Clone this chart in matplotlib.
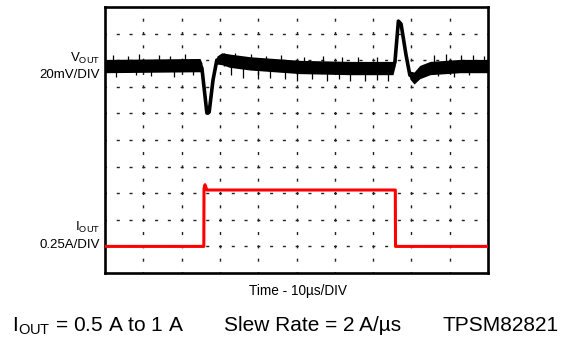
import matplotlib.pyplot as plt

plt.rcParams['font.family'] = ['Liberation Sans', 'DejaVu Sans']
plt.rcParams['mathtext.fontset'] = 'custom'
plt.rcParams['mathtext.rm'] = 'Liberation Sans'

# scope trace: time in us, VOUT deviation in mV
t_vout = [0, 24.8, 25.3, 26.6, 27.2, 28.2, 29.2, 30.5, 32.6, 37.9, 50.9, 64.0,
          75.2, 75.7, 76.6, 77.3, 78.6, 79.6, 80.7, 82.2, 84.9, 92.7, 100]
v_mv = [0, 0.7, -1.5, -35.3, -34.6, -10.5, 4.5, 5.5, 4.0, 2.0, -0.7, -1.5,
        -1.5, 3.0, 33.8, 31.6, 8.3, -6.8, -9.0, -4.5, -1.5, 0, 0]
# half height of the noise band, mV
v_noise = [5, 5, 4, 1.2, 1.2, 1.2, 3, 4.5, 5, 5, 5, 5,
           5, 3.5, 1.2, 1.2, 1.2, 3, 4.5, 5, 5, 5, 5]

# noise spikes sticking out of the band (time us, tip mV)
up_t = [2, 6, 9, 14, 17, 21, 31, 34, 38, 42, 46, 52, 57, 62, 66, 71, 86, 89, 93, 96, 99]
up_mv = [8, 7.5, 9, 8.5, 7.5, 9, 9.5, 10, 9, 7.5, 8, 7, 7.5, 6.5, 7, 6.5, 8, 9, 8, 8.5, 7.5]
down_t = [3, 8, 12, 18, 23, 33, 36, 40, 43, 47, 50, 54, 58, 61, 64, 68, 71, 74, 87, 91, 95]
down_mv = [-8, -7, -7.5, -8, -7, -7, -9, -10, -9, -10, -11, -10, -11.5, -10, -11, -11, -10.5, -11, -7.5, -8, -7]

# load current step, A
t_iout = [0, 25.8, 25.85, 26.1, 26.6, 75.8, 75.85, 100]
i_out = [0.5, 0.5, 1.04, 1.08, 1.03, 1.03, 0.5, 0.5]

vout_pos = 7.78      # screen division of the VOUT trace zero
mv_per_div = 20
a_per_div = 0.25

fig = plt.figure(figsize=(5.69, 3.39), dpi=100)
ax = fig.add_axes([105 / 569, 66 / 339, 383 / 569, 266 / 339])
ax.set_xlim(0, 100)
ax.set_ylim(0, 10)
ax.set_xticks([])
ax.set_yticks([])
for s in ax.spines.values():
    s.set_linewidth(1.9)

# dashed scope graticule
for k in range(1, 10):
    ax.axvline(k * 10, color='#222222', lw=1.0, linestyle=(1.1, (2.2, 7.4)), zorder=1)
    ax.axhline(k, color='#222222', lw=1.0, linestyle=(1.1, (2.2, 7.0)), zorder=1)

vy = [vout_pos + v / mv_per_div for v in v_mv]
lo = [vout_pos + (v - n) / mv_per_div for v, n in zip(v_mv, v_noise)]
hi = [vout_pos + (v + n) / mv_per_div for v, n in zip(v_mv, v_noise)]
ax.fill_between(t_vout, lo, hi, color='black', lw=0, zorder=3)
ax.plot(t_vout, vy, color='black', lw=2.6, zorder=3)
ax.vlines(up_t, vout_pos, [vout_pos + v / mv_per_div for v in up_mv], color='black', lw=0.9, zorder=3)
ax.vlines(down_t, vout_pos, [vout_pos + v / mv_per_div for v in down_mv], color='black', lw=0.9, zorder=3)

iy = [i / a_per_div - 1 for i in i_out]
ax.plot(t_iout, iy, color='#ff0000', lw=2.2, zorder=3)

fs = 9.5
fig.text(100 / 569, 1 - 62 / 339, r'V$_\mathregular{OUT}$', ha='right', va='baseline', fontsize=fs)
fig.text(100 / 569, 1 - 78 / 339, '20mV/DIV', ha='right', va='baseline', fontsize=fs)
fig.text(100 / 569, 1 - 231 / 339, r'I$_\mathregular{OUT}$', ha='right', va='baseline', fontsize=fs)
fig.text(100 / 569, 1 - 248 / 339, '0.25A/DIV', ha='right', va='baseline', fontsize=fs)

fig.text(298 / 569, 1 - 295 / 339, 'Time - 10µs/DIV', ha='center', va='baseline', fontsize=9.8)

fb = 15
fig.text(12 / 569, 1 - 331 / 339, r'I$_\mathregular{OUT}$ = 0.5 A to 1 A', ha='left', va='baseline', fontsize=fb)
fig.text(224 / 569, 1 - 331 / 339, 'Slew Rate = 2 A/µs', ha='left', va='baseline', fontsize=fb)
fig.text(559 / 569, 1 - 331 / 339, 'TPSM82821', ha='right', va='baseline', fontsize=fb)

fig.savefig('out.png', dpi=100)
